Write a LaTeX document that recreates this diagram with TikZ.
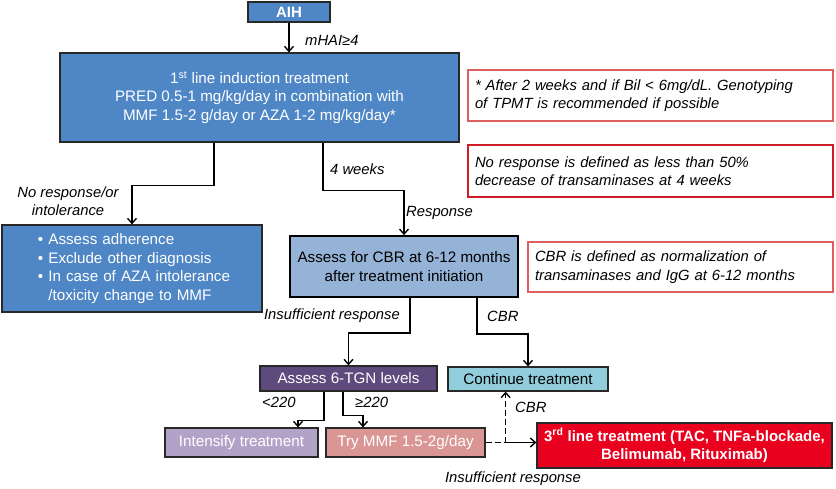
\documentclass[tikz,border=0pt]{standalone}
\usepackage{fontspec}
\setmainfont{Liberation Sans}
\usetikzlibrary{arrows.meta}
\definecolor{aihblue}{RGB}{79,134,197}
\definecolor{cbrblue}{RGB}{149,179,215}
\definecolor{tgnpurple}{RGB}{95,74,125}
\definecolor{contcyan}{RGB}{146,205,220}
\definecolor{intlav}{RGB}{179,162,199}
\definecolor{mmfpink}{RGB}{217,150,148}
\definecolor{thirdred}{RGB}{232,0,30}
\definecolor{notered}{RGB}{222,95,95}
\definecolor{notedark}{RGB}{205,30,40}
\definecolor{boxline}{RGB}{40,40,40}
\begin{document}
\begin{tikzpicture}[x=1pt,y=-1pt]
\tikzset{box/.style={draw=boxline,line width=1.3pt,text=white,inner sep=0pt,align=center,font=\fontsize{15.2}{18.5}\selectfont},
	note/.style={draw=notered,line width=1.3pt,align=left,inner xsep=7pt,inner ysep=0pt,font=\itshape\fontsize{14.8}{18.5}\selectfont},
	lab/.style={font=\itshape\fontsize{14.8}{18.5}\selectfont,inner sep=0pt},
	arr/.style={line width=1.4pt,-{Straight Barb[length=5pt,width=9pt,line width=1.4pt]}},
	link/.style={line width=1.4pt},
	dash6/.style={dash pattern=on 6pt off 3pt}}
\useasboundingbox (0,0) rectangle (836,488);

% boxes
\node[box,fill=aihblue,font=\bfseries\fontsize{15}{18}\selectfont,minimum width=82pt,minimum height=20pt] (aih) at (289,12) {AIH};
\node[box,fill=aihblue,minimum width=399pt,minimum height=89pt] (first) at (259.5,97.5)
	{1\textsuperscript{st} line induction treatment\\PRED 0.5-1 mg/kg/day in combination with\\MMF 1.5-2 g/day or AZA 1-2 mg/kg/day*};
\node[box,fill=aihblue,align=left,text width=204pt,inner xsep=28pt,minimum height=87pt] (adh) at (132,268.5)
	{\hspace*{8pt}\textbullet\ Assess adherence\\\hspace*{8pt}\textbullet\ Exclude other diagnosis\\\hspace*{8pt}\textbullet\ In case of AZA intolerance\\\hspace*{8pt}\phantom{\textbullet\ }/toxicity change to MMF};
\node[box,fill=cbrblue,text=black,draw=black,line width=1.8pt,minimum width=228pt,minimum height=61pt] (cbr) at (404,266.5)
	{Assess for CBR at 6-12 months\\after treatment initiation};
\node[box,fill=tgnpurple,minimum width=177pt,minimum height=25pt] (tgn) at (348.5,378.5) {Assess 6-TGN levels};
\node[box,fill=contcyan,text=black,minimum width=160pt,minimum height=24pt] (cont) at (528,379) {Continue treatment};
\node[box,fill=intlav,minimum width=153pt,minimum height=29pt] (intens) at (241.5,442.5) {Intensify treatment};
\node[box,fill=mmfpink,minimum width=159pt,minimum height=29pt] (mmf) at (405.5,442.5) {Try MMF 1.5-2g/day};
\node[box,fill=thirdred,font=\bfseries\fontsize{15}{18.5}\selectfont,minimum width=295pt,minimum height=45pt] (third) at (684.5,445.5)
	{3\textsuperscript{rd} line treatment (TAC, TNFa-blockade,\\Belimumab, Rituximab)};

% notes
\node[note,text width=351pt,minimum height=51pt] (n1) at (650.5,95.5)
	{* After 2 weeks and if Bil < 6mg/dL. Genotyping\\of TPMT is recommended if possible};
\node[note,draw=notedark,text width=351pt,minimum height=52pt] (n2) at (650.5,171)
	{No response is defined as less than 50\%\\decrease of transaminases at 4 weeks};
\node[note,text width=291pt,minimum height=50pt] (n3) at (680.5,267)
	{CBR is defined as normalization of\\transaminases and IgG at 6-12 months};

% connectors
\draw[arr] (aih) -- (aih |- first.north);
\draw[arr] ([xshift=-45.5pt]first.south) -- ++(0,43) -| (adh.north);
\draw[arr] ([xshift=63.5pt]first.south) -- ++(0,48) -| (cbr.north);
\draw[arr] ([xshift=6pt]cbr.south) -- ++(0,35) -| (tgn.north);
\draw[arr] ([xshift=73pt]cbr.south) -- ++(0,36) -| (cont.north);
\draw[arr] ([xshift=-24.5pt]tgn.south) -- ++(0,29) -| ([xshift=56.5pt]intens.north);
\draw[arr] ([xshift=-5.5pt]tgn.south) -- ++(0,24) -| ([xshift=-42.5pt]mmf.north);
\draw[link,dash6] (mmf.east) -- ++(20,0) coordinate (split);
\draw[arr] (split) -- (split -| third.west);
\draw[arr,dash6] (split) -- (split |- cont.south);

% labels
\node[lab,anchor=west] (l1) at (305,40) {mHAI≥4};
\node[lab,align=center] (l2) at (68,201) {No response/or\\intolerance};
\node[lab,anchor=west] (l3) at (330,169) {4 weeks};
\node[lab,anchor=west] (l4) at (406,213) {Response};
\node[lab] (l5) at (332,316) {Insufficient response};
\node[lab,anchor=west] (l6) at (487,316) {CBR};
\node[lab,anchor=west] (l7) at (262,402) {<220};
\node[lab,anchor=west] (l8) at (355,402) {≥220};
\node[lab,anchor=west] (l9) at (515,407) {CBR};
\node[lab] (l10) at (513,479) {Insufficient response};
\end{tikzpicture}
\end{document}
